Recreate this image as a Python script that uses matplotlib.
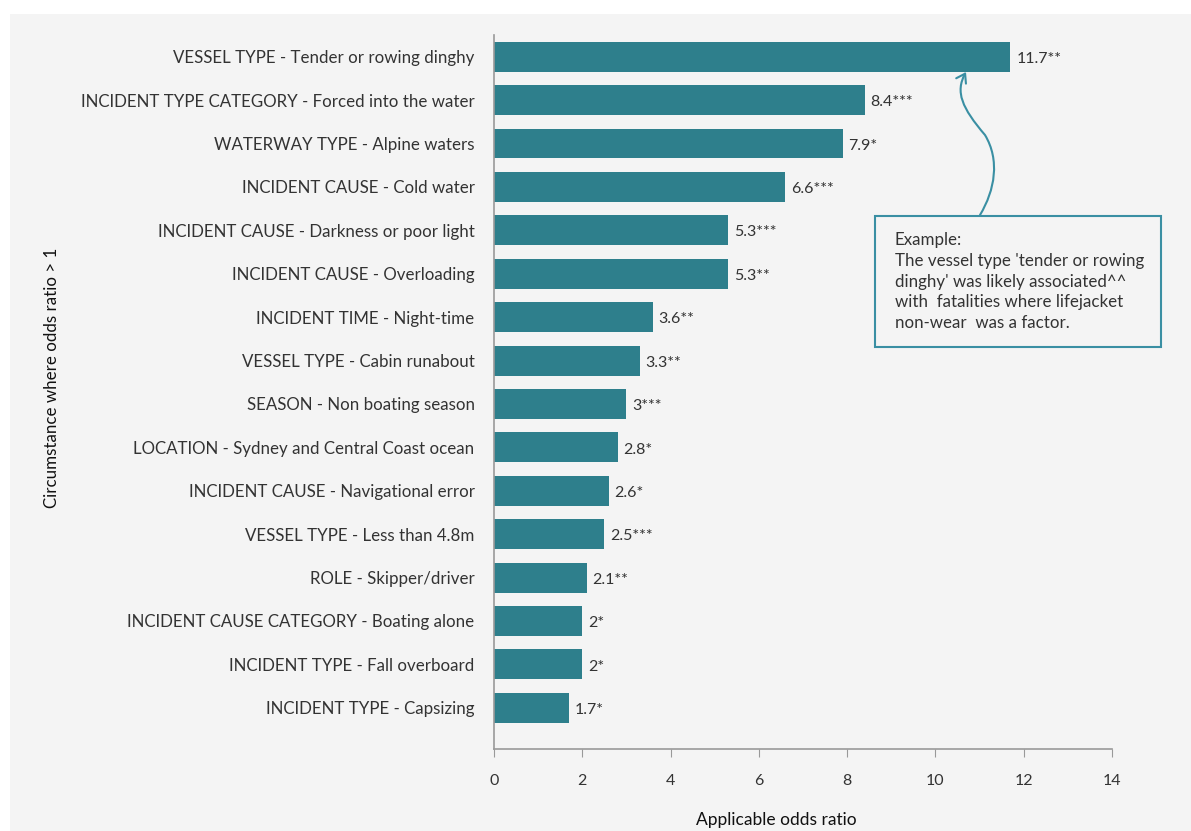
import numpy as np
import matplotlib.pyplot as plt
from matplotlib.patches import FancyArrowPatch, Rectangle
from matplotlib.path import Path

# data
categories = [
    "VESSEL TYPE - Tender or rowing dinghy",
    "INCIDENT TYPE CATEGORY - Forced into the water",
    "WATERWAY TYPE - Alpine waters",
    "INCIDENT CAUSE - Cold water",
    "INCIDENT CAUSE - Darkness or poor light",
    "INCIDENT CAUSE - Overloading",
    "INCIDENT TIME - Night-time",
    "VESSEL TYPE - Cabin runabout",
    "SEASON - Non boating season",
    "LOCATION - Sydney and Central Coast ocean",
    "INCIDENT CAUSE - Navigational error",
    "VESSEL TYPE - Less than 4.8m",
    "ROLE - Skipper/driver",
    "INCIDENT CAUSE CATEGORY - Boating alone",
    "INCIDENT TYPE - Fall overboard",
    "INCIDENT TYPE - Capsizing",
]
odds = [11.7, 8.4, 7.9, 6.6, 5.3, 5.3, 3.6, 3.3, 3.0, 2.8, 2.6, 2.5, 2.1, 2.0, 2.0, 1.7]
value_labels = ["11.7**", "8.4***", "7.9*", "6.6***", "5.3***", "5.3**", "3.6**", "3.3**",
                "3***", "2.8*", "2.6*", "2.5***", "2.1**", "2*", "2*", "1.7*"]
xticks = [0, 2, 4, 6, 8, 10, 12, 14]

bar_col = "#2e7f8c"
bg = "#f4f4f4"
txt = "#333333"
plt.rcParams['font.family'] = ['Lato', 'DejaVu Sans']

W, H = 1191, 831
fig = plt.figure(figsize=(W / 100, H / 100), dpi=100)
fig.patch.set_facecolor("white")
# grey panel, white strip on top and left
fig.patches.append(Rectangle((10 / W, 0), 1, 1 - 14 / H, transform=fig.transFigure,
                             facecolor=bg, edgecolor="none", zorder=-10))

ax = fig.add_axes([494 / W, 82 / H, 618 / W, (796 - 82) / H])
ax.set_facecolor(bg)
ax.patch.set_alpha(0)

y = np.arange(len(categories))
ax.barh(y, odds, height=0.69, color=bar_col)
for yi, v, lab in zip(y, odds, value_labels):
    ax.text(v + 0.13, yi + 0.05, lab, va="center", ha="left", fontsize=11.5, color=txt)

ax.set_yticks(y)
ax.set_yticklabels(categories, fontsize=12.2, color=txt)
ax.set_ylim(15.95, -0.5)
ax.set_xlim(0, 14)
ax.set_xticks(xticks)
ax.set_xticklabels([str(t) for t in xticks], fontsize=11.5, color=txt)
ax.tick_params(axis="y", length=0, pad=14)
ax.tick_params(axis="x", length=6, color="#999999", pad=12)
for s in ["top", "right"]:
    ax.spines[s].set_visible(False)
ax.spines["left"].set_color("#999999")
ax.spines["bottom"].set_color("#999999")
ax.spines["left"].set_linewidth(1.2)
ax.spines["bottom"].set_linewidth(1.2)

ax.set_xlabel("Applicable odds ratio", fontsize=12.5, color="#111111")
ax.xaxis.set_label_coords((776 - 494) / 618, -(812 - 749) / 714, transform=ax.transAxes)
fig.text(52 / W, 1 - 378 / H, "Circumstance where odds ratio > 1", rotation=90,
         ha="center", va="center", fontsize=12.2, color="#111111")

# annotation box
box_col = "#3a8fa3"
fig.patches.append(Rectangle((875 / W, 1 - 347 / H), 286 / W, 131 / H,
                             transform=fig.transFigure, facecolor=bg,
                             edgecolor=box_col, linewidth=1.5))
fig.text(895 / W, 1 - 232 / H,
         "Example:\nThe vessel type 'tender or rowing\ndinghy' was likely associated^^\n"
         "with  fatalities where lifejacket\nnon-wear  was a factor.",
         ha="left", va="top", fontsize=12.2, color=txt, linespacing=1.37)

pts = [(980, 215), (995, 190), (1000, 160), (985, 135),
       (962, 108), (955, 92), (966, 72)]
codes = [Path.MOVETO] + [Path.CURVE4] * 6
path = Path([(px / W, 1 - py / H) for px, py in pts], codes)
arrow = FancyArrowPatch(path=path, arrowstyle="->,head_length=6,head_width=4",
                        color=box_col, linewidth=1.5, transform=fig.transFigure)
fig.patches.append(arrow)

fig.savefig("out.png", dpi=100, facecolor=fig.get_facecolor())
